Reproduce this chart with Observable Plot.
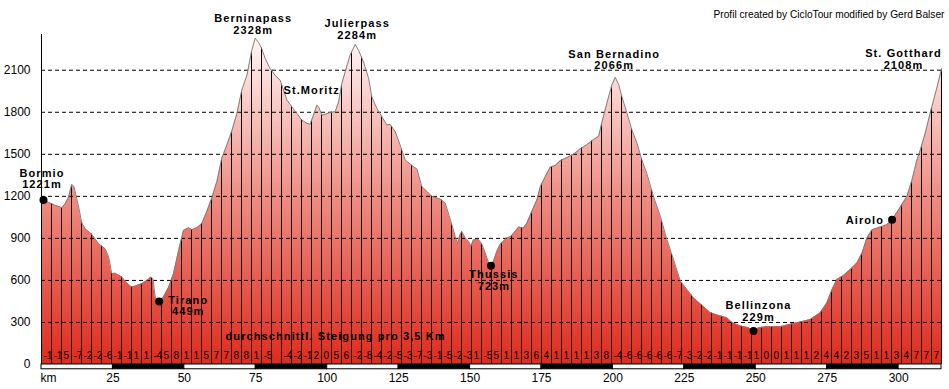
<!DOCTYPE html>
<html><head><meta charset="utf-8">
<script src="https://cdn.jsdelivr.net/npm/d3@7"></script>
<script src="https://cdn.jsdelivr.net/npm/@observablehq/plot@0.6"></script>
<style>
body{margin:0;background:#fff;}
#chart svg{display:block;}
</style>
</head><body><div id="chart"></div>
<script>
const kmValues = [0,3.0,4.8,7.1,8.3,9.5,10.6,11.4,13.0,14.1,15.3,17.6,20.0,22.3,23.5,24.6,25.8,28.1,29.9,31.6,33.4,35.1,36.9,38.3,39.0,39.8,41.0,42.7,44.5,46.2,48.0,49.7,51.5,52.6,54.4,56.1,57.9,59.6,61.4,63.1,64.9,66.6,68.4,70.1,71.9,73.6,74.8,76.0,77.1,78.3,80.0,81.8,83.5,84.7,85.9,87.6,89.4,91.1,92.9,94.0,95.2,96.4,97.0,98.1,99.3,101.0,102.8,104.0,105.1,106.3,108.0,109.8,111.0,112.7,114.5,115.6,117.4,119.1,120.9,122.0,123.8,125.5,127.3,129.6,131.4,133.1,134.9,136.6,139.6,141.3,143.1,144.8,145.6,146.3,147.1,148.3,149.5,150.3,151.2,153.0,154.2,155.3,156.5,157.3,158.2,159.4,160.6,161.7,162.7,164.1,165.8,167.0,168.7,169.9,171.6,173.4,174.6,176.3,178.1,179.8,181.6,184.0,186.2,188.6,190.9,193.2,195.0,196.1,197.9,199.7,200.8,202.0,203.1,204.9,206.6,208.4,210.1,211.9,214.2,216.6,218.9,221.2,223.6,225.9,228.2,230.6,234.1,237.6,239.9,241.7,244.6,247.5,249.2,251.0,253.9,258.6,262.1,265.6,269.1,272.6,274.9,276.7,278.4,280.7,283.1,285.4,287.2,288.9,290.7,293.6,295.9,297.7,300.0,302.9,304.7,306.4,307.6,309.3,311.1,313.2,315.0];
const elevValues = [1180,1152,1136,1119,1148,1195,1286,1267,1124,1010,969,929,862,826,767,648,652,624,581,552,564,576,600,624,612,481,445,481,552,648,814,957,976,962,976,1005,1093,1188,1306,1472,1567,1666,1792,1958,2064,2242,2328,2297,2254,2183,2112,2064,2029,1958,1887,1839,1792,1744,1721,1714,1780,1851,1839,1780,1785,1799,1804,1875,2005,2088,2207,2284,2242,2159,2041,1910,1827,1768,1709,1714,1662,1567,1460,1420,1395,1270,1235,1200,1180,1152,1033,915,862,915,950,903,879,843,891,891,855,796,725,705,737,808,860,879,903,910,950,981,974,1009,1092,1175,1270,1340,1410,1420,1455,1478,1500,1540,1569,1605,1629,1724,1867,1998,2050,1998,1914,1795,1676,1581,1462,1360,1199,1057,891,749,595,535,476,433,370,346,334,299,275,263,239,263,270,270,287,303,322,370,441,536,607,635,678,725,796,903,962,981,998,1033,1104,1199,1318,1460,1531,1650,1800,1960,2108];
const segmentGrades = ["-1","-1","5","-7","-2","-2","-6","-1","-1","1","1","-4","5","8","1","1","5","7","7","8","8","1","-5","","-4","-2","-1","2",
  "0","5","6","-2","-8","-4","-2","-5","-3","-7","-3","-1","-5","-2","-3","1","-5","5","1","1","3","6","4","1","1","1","1","3","8","-4","-6",
  "-6","-6","-6","-6","-7","-3","-2","-2","-1","-1","-1","-1","1","0","0","1","1","1","2","4","4","2","3","5","1","1","3","4","7","7","7"];
const segmentKm = 3.5;
const xTicks = [25,50,75,100,125,150,175,200,225,250,275,300];
const yTicks = [0,300,600,900,1200,1500,1800,2100];
const bandEdges = [0,25,50,75,100,125,150,175,200,225,250,275,300,315];
const placeNames = ["Bormio","Tirano","Thussis","Bellinzona","Airolo"];
const placeAlt = ["1221m","449m","723m","229m",""];
const placeKm = [0.7,41.2,157.3,249.2,297.7];
const passNames = ["Berninapass","St.Moritz","Julierpass","San Bernadino","St. Gotthard"];
const passAlt = ["2328m","","2284m","2066m","2108m"];
const passKm = [74.8,94.0,109.8,200.8,315.0];
const noteText = "durchschnittl. Steigung pro 3,5 Km";
const creditText = "Profil created by CicloTour modified by Gerd Balser";

// ---- derived tables ----
const profile = kmValues.map((k,i)=>({km:k, elev:elevValues[i]}));
const elevAt = d3.scaleLinear().domain(kmValues).range(elevValues);
const xMax = kmValues[kmValues.length-1];
const nSeg = Math.round(xMax/segmentKm);
const segLines = d3.range(1, nSeg+1).map(i => i*segmentKm);
const bands = bandEdges.slice(0,-1).map((a,i)=>({a, b:bandEdges[i+1], dark: i%2===1}));
const places = placeNames.map((n,i)=>({name:n, alt:placeAlt[i], km:placeKm[i], elev:elevAt(placeKm[i])}));
const passes = passNames.map((n,i)=>({name:n, alt:passAlt[i], km:passKm[i], elev:elevAt(passKm[i])}));

const W = 949, H = 389, mL = 41, mR = 8, mT = 34, mB = 25, yMax = 2355;
const FONT = "'Liberation Sans', Arial, sans-serif";

// label offsets (pixels) relative to anchor point
const placeStyle = {
  Bormio:     {dx:-1.5, dy:-12, anchor:"middle"},
  Tirano:     {dx:29,   dy:13.5, anchor:"middle"},
  Thussis:    {dx:3,  dy:24,  anchor:"middle"},
  Bellinzona: {dx:5,    dy:-10.5, anchor:"middle"},
  Airolo:     {dx:-8, dy:3.8, anchor:"end"}
};
const passStyle = {
  "Berninapass":   {dx:-2, dy:-4.5, anchor:"middle"},
  "St.Moritz":     {dx:-26.6, dy:-30.8, anchor:"start"},
  "Julierpass":    {dx:2, dy:-5.7, anchor:"middle"},
  "San Bernadino": {dx:-1, dy:-8.4, anchor:"middle"},
  "St. Gotthard":  {dx:-38, dy:-0.3, anchor:"middle"}
};

const labelMarks = [];
for (const p of [...places, ...passes]) {
  const s = placeStyle[p.name] || passStyle[p.name];
  labelMarks.push(Plot.text([p], {
    x:"km", y:"elev", text: d => d.alt ? d.name + "\n" + d.alt : d.name,
    dx:s.dx, dy:s.dy, textAnchor:s.anchor, lineAnchor:"bottom", lineHeight:1.03,
    fontSize:11, fontWeight:"bold", fill:"black", stroke:"none"
  }));
}

const gradientMark = (index, scales) => {
  const yS = scales && scales.y ? scales.y : (v => mT + (1 - v/yMax)*(H-mT-mB));
  const defs = d3.create("svg:defs");
  const g = defs.append("linearGradient").attr("id","elevGrad")
    .attr("gradientUnits","userSpaceOnUse")
    .attr("x1",0).attr("x2",0).attr("y1",yS(0)).attr("y2",yS(2330));
  g.append("stop").attr("offset","0%").attr("stop-color","#df2a1c");
  g.append("stop").attr("offset","50%").attr("stop-color","#ee8a80");
  g.append("stop").attr("offset","100%").attr("stop-color","#fff6f6");
  return defs.node();
};

const chart = Plot.plot({
  width: W, height: H,
  marginLeft: mL, marginRight: mR, marginTop: mT, marginBottom: mB,
  style: {fontFamily: FONT, background:"#fff", overflow:"visible"},
  x: {domain:[0, xMax]},
  y: {domain:[0, yMax]},
  marks: [
    gradientMark,
    Plot.areaY(profile, {x:"km", y:"elev", fill:"url(#elevGrad)", curve:"linear"}),
    Plot.ruleX(segLines, {x: d=>d, y1:0, y2: d=>elevAt(d), stroke:"black", strokeWidth:1}),
    Plot.ruleY(yTicks.filter(d=>d>0), {y: d=>d, stroke:"black", strokeDasharray:"4,3", strokeWidth:1}),
    Plot.lineY(profile, {x:"km", y:"elev", stroke:"#808080", strokeWidth:1}),
    Plot.ruleX([0], {y1:0, y2:yMax, stroke:"black", strokeWidth:1}),
    Plot.rect(bands, {x1:"a", x2:"b", y1:0, y2:-34, fill: d => d.dark ? "black" : "white", stroke:"black", strokeWidth:1}),
    Plot.axisY(yTicks, {tickSize:0, tickPadding:11, fontSize:12, label:null, fill:"black", tickFormat: d => String(d)}),
    Plot.axisX(xTicks, {tickSize:0, tickPadding:9, fontSize:12, label:null, fill:"black", tickFormat: d => String(d)}),
    Plot.text(["km"], {x:0, y:0, dx:-1, dy:9, text:d=>d, textAnchor:"start", lineAnchor:"top", fontSize:12, fill:"black"}),
    Plot.text(segmentGrades, {x:(d,i)=>i*segmentKm, y:0, text:d=>d, dx:2, dy:-6, textAnchor:"start", lineAnchor:"bottom", fontSize:10, fill:"black"}),
    Plot.dot(places, {x:"km", y:"elev", r:4, fill:"black", stroke:"none"}),
    ...labelMarks,
    Plot.text([noteText], {frameAnchor:"bottom-left", text:d=>d, dx:184, dy:-25, textAnchor:"start", lineAnchor:"bottom", fontSize:11, fontWeight:"bold", fill:"black"}),
    Plot.text([creditText], {frameAnchor:"top-right", text:d=>d, dx:3, dy:-17, textAnchor:"end", lineAnchor:"bottom", fontSize:10.2, fill:"black"})
  ]
});
// bold annotation text in the reference is letter-spaced
d3.select(chart).selectAll('g[font-weight="bold"]').attr("letter-spacing", "1.1px");
document.getElementById("chart").appendChild(chart);
</script>
</body></html>
